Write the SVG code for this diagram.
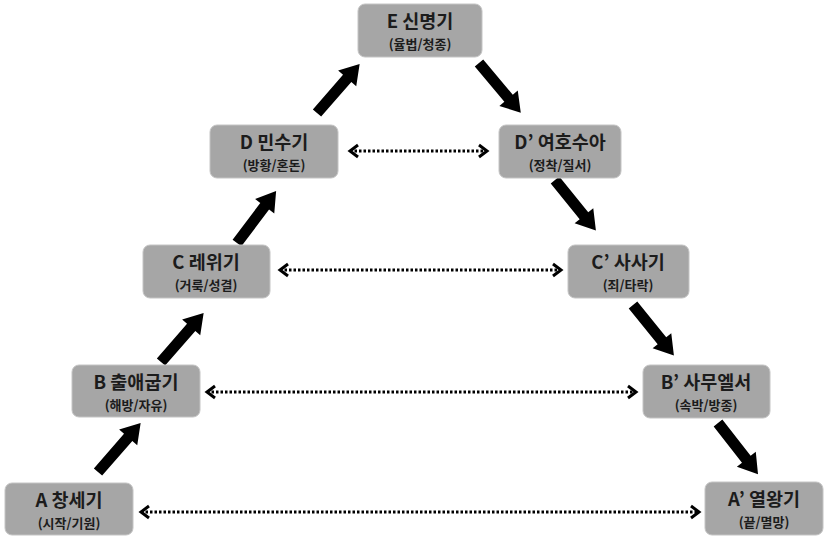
<svg xmlns="http://www.w3.org/2000/svg" xmlns:xlink="http://www.w3.org/1999/xlink" width="825" height="536" viewBox="0 0 825 536">
<style>
.box{fill:#a6a6a6;stroke:#c4c4c4;stroke-width:1}
.t{font-family:"Noto Sans CJK KR","Noto Sans",sans-serif;font-weight:bold;fill:#1c1c1c;text-anchor:middle}
.t1{font-size:18.5px}
.t2{font-size:13px}
.dot{stroke:#000;stroke-width:3;stroke-dasharray:2.5 2;fill:none;marker-start:url(#chevS);marker-end:url(#chevE)}
</style>
<defs>
<path id="arr" d="M0,-5.5 L46,-5.5 L46,-12 L65,0 L46,12 L46,5.5 L0,5.5 Z" fill="#000"/>
<marker id="chevE" markerUnits="userSpaceOnUse" markerWidth="14" markerHeight="16" refX="10" refY="7" orient="auto" overflow="visible">
<path d="M2,1 L10,7 L2,13" fill="none" stroke="#000" stroke-width="3"/>
</marker>
<marker id="chevS" markerUnits="userSpaceOnUse" markerWidth="14" markerHeight="16" refX="2" refY="7" orient="auto" overflow="visible">
<path d="M10,1 L2,7 L10,13" fill="none" stroke="#000" stroke-width="3"/>
</marker>
</defs>
<rect width="825" height="536" fill="#fff"/>
<g id="connectors">
<use xlink:href="#arr" transform="translate(98,472) rotate(-49)"/>
<use xlink:href="#arr" transform="translate(161,362) rotate(-49)"/>
<use xlink:href="#arr" transform="translate(237,243) rotate(-53)"/>
<use xlink:href="#arr" transform="translate(317,113) rotate(-49)"/>
<use xlink:href="#arr" transform="translate(479,63) rotate(50)"/>
<use xlink:href="#arr" transform="translate(555,180) rotate(51)"/>
<use xlink:href="#arr" transform="translate(633,305) rotate(51)"/>
<use xlink:href="#arr" transform="translate(718,423) rotate(52)"/>
<line class="dot" x1="350" y1="151" x2="487" y2="151"/>
<line class="dot" x1="280" y1="270" x2="561" y2="270"/>
<line class="dot" x1="207" y1="392" x2="636" y2="392"/>
<line class="dot" x1="141" y1="512" x2="699" y2="512"/>
</g>
<g id="E"><rect class="box" x="358" y="4" width="124" height="53" rx="7"/><text class="t t1" x="420" y="28">E 신명기</text><text class="t t2" x="420" y="49">(율법/청종)</text></g>
<g id="D"><rect class="box" x="210" y="125" width="128" height="53" rx="7"/><text class="t t1" x="274" y="149">D 민수기</text><text class="t t2" x="274" y="170">(방황/혼돈)</text></g>
<g id="Dp"><rect class="box" x="499" y="125" width="122" height="53" rx="7"/><text class="t t1" x="560" y="149">D’ 여호수아</text><text class="t t2" x="560" y="170">(정착/질서)</text></g>
<g id="C"><rect class="box" x="143" y="245" width="127" height="53" rx="7"/><text class="t t1" x="206" y="269">C 레위기</text><text class="t t2" x="206" y="290">(거룩/성결)</text></g>
<g id="Cp"><rect class="box" x="568" y="245" width="121" height="53" rx="7"/><text class="t t1" x="628" y="269">C’ 사사기</text><text class="t t2" x="628" y="290">(죄/타락)</text></g>
<g id="B"><rect class="box" x="72" y="365" width="128" height="52" rx="7"/><text class="t t1" x="136" y="389">B 출애굽기</text><text class="t t2" x="136" y="410">(해방/자유)</text></g>
<g id="Bp"><rect class="box" x="643" y="365" width="127" height="53" rx="7"/><text class="t t1" x="706" y="389">B’ 사무엘서</text><text class="t t2" x="706" y="410">(속박/방종)</text></g>
<g id="A"><rect class="box" x="5" y="483" width="128" height="52" rx="7"/><text class="t t1" x="69" y="507">A 창세기</text><text class="t t2" x="69" y="528">(시작/기원)</text></g>
<g id="Ap"><rect class="box" x="705" y="482" width="118" height="53" rx="7"/><text class="t t1" x="764" y="506">A’ 열왕기</text><text class="t t2" x="764" y="527">(끝/멸망)</text></g>
</svg>
